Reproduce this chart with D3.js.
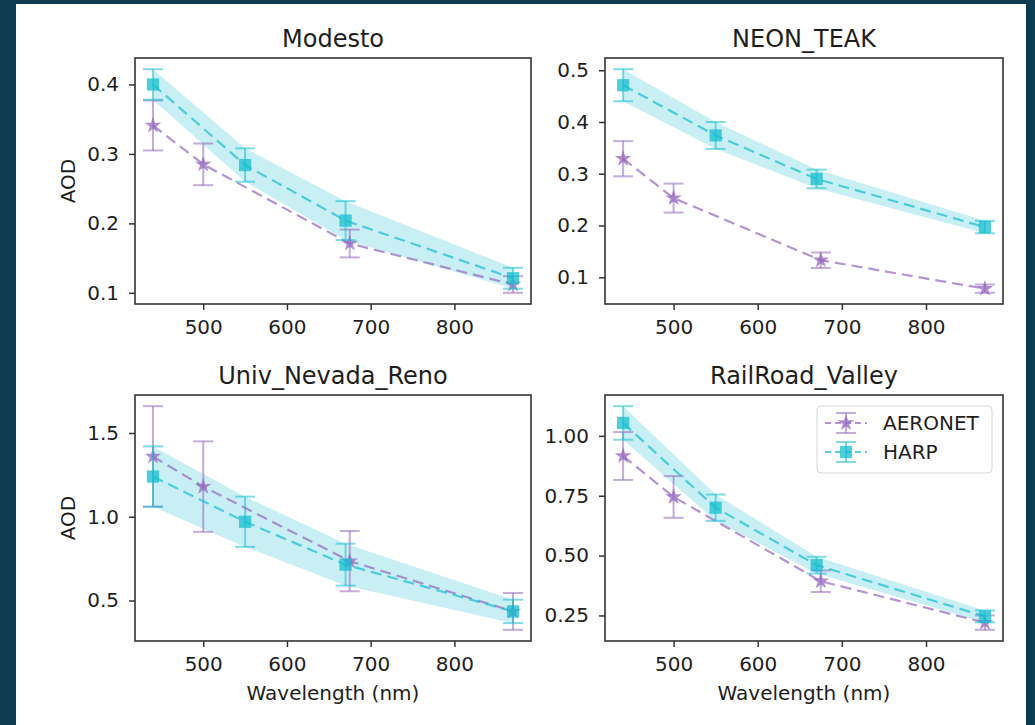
<!DOCTYPE html>
<html>
<head>
<meta charset="utf-8">
<style>
  * { margin:0; padding:0 }
  body, html { width:1035px; height:725px; overflow:hidden; background:#0e3b50; }
  svg { display:block; }
  text { font-family: "DejaVu Sans", sans-serif; fill:#1e1e1e; }
</style>
<script src="https://cdn.jsdelivr.net/npm/d3@7"></script>
</head>
<body>
<script>
// data
var sites = ["Modesto", "NEON_TEAK", "Univ_Nevada_Reno", "RailRoad_Valley"];
var aeronetWl = [440, 500, 675, 870];
var harpWl = [440, 550, 670, 870];

var aeronetAod = [
  [0.341, 0.285, 0.171, 0.112],
  [0.329, 0.253, 0.133, 0.078],
  [1.36, 1.18, 0.735, 0.435],
  [0.916, 0.745, 0.393, 0.22]
];
var aeronetErr = [
  [0.036, 0.030, 0.020, 0.012],
  [0.034, 0.028, 0.015, 0.008],
  [0.30, 0.27, 0.18, 0.11],
  [0.10, 0.087, 0.045, 0.03]
];
var harpAod = [
  [0.400, 0.284, 0.204, 0.121],
  [0.471, 0.374, 0.290, 0.197],
  [1.24, 0.97, 0.714, 0.435],
  [1.054, 0.70, 0.46, 0.246]
];
var harpErr = [
  [0.022, 0.024, 0.028, 0.015],
  [0.031, 0.026, 0.018, 0.012],
  [0.18, 0.15, 0.125, 0.07],
  [0.07, 0.055, 0.035, 0.025]
];

var xTicks = [500, 600, 700, 800];
var yTicks = [
  [0.1, 0.2, 0.3, 0.4],
  [0.1, 0.2, 0.3, 0.4, 0.5],
  [0.5, 1.0, 1.5],
  [0.25, 0.50, 0.75, 1.00]
];
var yFormats = [".1f", ".1f", ".1f", ".2f"];
var seriesNames = ["AERONET", "HARP"];

var purple = "#9467bd", cyan = "#17becf";

var svg = d3.select("body").append("svg")
    .attr("width", 1035)
    .attr("height", 725);

svg.append("rect")
    .attr("x", 16).attr("y", 4)
    .attr("width", 1010).attr("height", 721)
    .attr("fill", "#fff");

var boxes = [
  {x: 135, y: 58, w: 396, h: 246},
  {x: 605, y: 58, w: 398, h: 246},
  {x: 135, y: 395, w: 396, h: 246},
  {x: 605, y: 395, w: 398, h: 246}
];

var star = d3.symbol().type(d3.symbolStar).size(85);
var square = d3.symbol().type(d3.symbolSquare).size(150);

function padded(lo, hi) {
  var m = (hi - lo) * 0.05;
  return [lo - m, hi + m];
}

sites.forEach(function(site, i) {
  var b = boxes[i];
  var g = svg.append("g").attr("transform", "translate(" + b.x + "," + b.y + ")");

  var aer = aeronetWl.map(function(w, j) { return {w: w, v: aeronetAod[i][j], e: aeronetErr[i][j]}; });
  var harp = harpWl.map(function(w, j) { return {w: w, v: harpAod[i][j], e: harpErr[i][j]}; });
  var all = aer.concat(harp);

  var x = d3.scaleLinear()
      .domain(padded(d3.min(aeronetWl.concat(harpWl)), d3.max(aeronetWl.concat(harpWl))))
      .range([0, b.w]);
  var y = d3.scaleLinear()
      .domain(padded(d3.min(all, function(d) { return d.v - d.e; }), d3.max(all, function(d) { return d.v + d.e; })))
      .range([b.h, 0]);

  // shaded band around HARP
  g.append("path")
      .datum(harp)
      .attr("fill", cyan)
      .attr("fill-opacity", 0.24)
      .attr("d", d3.area()
        .x(function(d) { return x(d.w); })
        .y0(function(d) { return y(d.v - d.e); })
        .y1(function(d) { return y(d.v + d.e); }));

  var line = d3.line()
      .x(function(d) { return x(d.w); })
      .y(function(d) { return y(d.v); });

  [[aer, purple, star], [harp, cyan, square]].forEach(function(s) {
    var data = s[0], col = s[1], sym = s[2];
    g.append("path")
        .datum(data)
        .attr("fill", "none")
        .attr("stroke", col)
        .attr("stroke-opacity", 0.7)
        .attr("stroke-width", 2.2)
        .attr("stroke-dasharray", "11,6")
        .attr("d", line);

    var eb = g.append("g").selectAll("g")
        .data(data).enter().append("g")
        .attr("stroke", col)
        .attr("stroke-opacity", 0.55)
        .attr("stroke-width", 2);
    eb.append("line")
        .attr("x1", function(d) { return x(d.w); })
        .attr("x2", function(d) { return x(d.w); })
        .attr("y1", function(d) { return y(d.v - d.e); })
        .attr("y2", function(d) { return y(d.v + d.e); });
    eb.append("line")
        .attr("x1", function(d) { return x(d.w) - 10; })
        .attr("x2", function(d) { return x(d.w) + 10; })
        .attr("y1", function(d) { return y(d.v - d.e); })
        .attr("y2", function(d) { return y(d.v - d.e); });
    eb.append("line")
        .attr("x1", function(d) { return x(d.w) - 10; })
        .attr("x2", function(d) { return x(d.w) + 10; })
        .attr("y1", function(d) { return y(d.v + d.e); })
        .attr("y2", function(d) { return y(d.v + d.e); });

    g.append("g").selectAll("path")
        .data(data).enter().append("path")
        .attr("transform", function(d) { return "translate(" + x(d.w) + "," + y(d.v) + ")"; })
        .attr("d", sym)
        .attr("fill", col)
        .attr("fill-opacity", 0.75);
  });

  // axes
  var xa = g.append("g")
      .attr("transform", "translate(0," + b.h + ")")
      .call(d3.axisBottom(x).tickValues(xTicks).tickSize(6).tickPadding(10).tickSizeOuter(0));
  var ya = g.append("g")
      .call(d3.axisLeft(y).tickValues(yTicks[i]).tickFormat(d3.format(yFormats[i])).tickSize(6).tickPadding(10).tickSizeOuter(0));
  [xa, ya].forEach(function(a) {
    a.select(".domain").remove();
    a.selectAll("line").attr("stroke", "#333").attr("stroke-width", 1.5);
    a.selectAll("text").attr("font-size", 20).attr("font-family", "DejaVu Sans").attr("fill", "#1e1e1e");
  });

  g.append("rect")
      .attr("width", b.w).attr("height", b.h)
      .attr("fill", "none")
      .attr("stroke", "#333")
      .attr("stroke-width", 1.6);

  g.append("text")
      .attr("x", b.w / 2).attr("y", -11)
      .attr("text-anchor", "middle")
      .attr("font-size", 24)
      .text(site);

  if (i % 2 == 0) {
    g.append("text")
        .attr("transform", "translate(-60," + (b.h / 2) + ")rotate(-90)")
        .attr("text-anchor", "middle")
        .attr("font-size", 20)
        .text("AOD");
  }
  if (i >= 2) {
    g.append("text")
        .attr("x", b.w / 2).attr("y", b.h + 59)
        .attr("text-anchor", "middle")
        .attr("font-size", 20)
        .text("Wavelength (nm)");
  }

  if (i == 3) {
    var lg = g.append("g").attr("transform", "translate(" + (b.w - 186) + ",11)");
    lg.append("rect")
        .attr("width", 175).attr("height", 67).attr("rx", 4)
        .attr("fill", "#fff").attr("fill-opacity", 0.8)
        .attr("stroke", "#d6d6d6");
    [[purple, star], [cyan, square]].forEach(function(s, k) {
      var cy = 17 + k * 29;
      var it = lg.append("g").attr("transform", "translate(29," + cy + ")");
      it.append("line")
          .attr("x1", -21).attr("x2", 21)
          .attr("stroke", s[0]).attr("stroke-opacity", 0.7)
          .attr("stroke-width", 2).attr("stroke-dasharray", "6,4");
      it.append("line").attr("y1", -10).attr("y2", 10)
          .attr("stroke", s[0]).attr("stroke-opacity", 0.55).attr("stroke-width", 2);
      [-10, 10].forEach(function(dy) {
        it.append("line").attr("x1", -10).attr("x2", 10).attr("y1", dy).attr("y2", dy)
            .attr("stroke", s[0]).attr("stroke-opacity", 0.55).attr("stroke-width", 2);
      });
      it.append("path").attr("d", k == 0 ? star : square)
          .attr("fill", s[0]).attr("fill-opacity", 0.75);
      lg.append("text")
          .attr("x", 66).attr("y", cy + 7)
          .attr("font-size", 20)
          .text(seriesNames[k]);
    });
  }
});
</script>
</body>
</html>
